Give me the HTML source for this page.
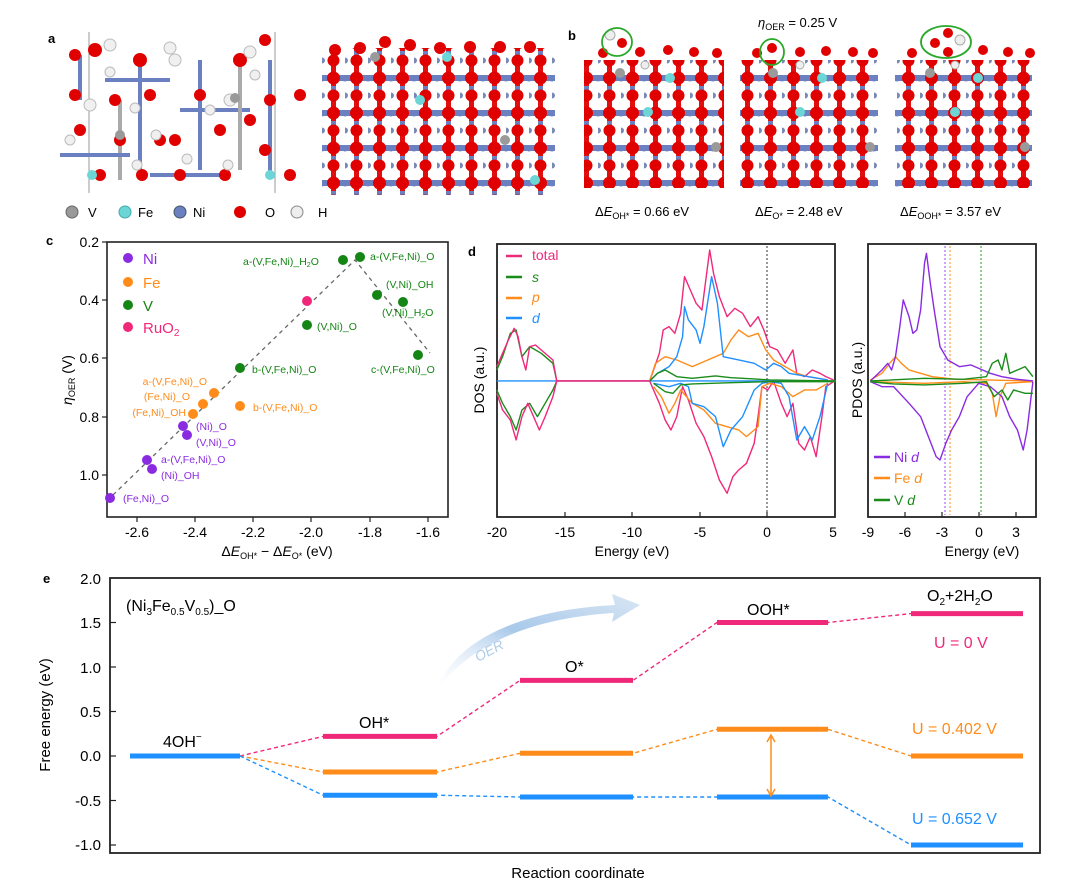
<!DOCTYPE html>
<html><head><meta charset="utf-8"><style>
html,body{margin:0;padding:0;background:#fff;}
svg{display:block;font-family:"Liberation Sans",Arial,sans-serif;}
</style></head><body>
<svg width="1067" height="894" viewBox="0 0 1067 894" xmlns="http://www.w3.org/2000/svg">
<defs>
<pattern id="slab" x="0" y="8" width="23" height="35" patternUnits="userSpaceOnUse">
<rect x="0" y="-3" width="23" height="6" fill="#6a80c0"/>
<rect x="0" y="32" width="23" height="6" fill="#6a80c0"/>
<rect x="9" y="0" width="5" height="35" fill="#e01010"/>
<rect x="9" y="8" width="5" height="10" fill="#6a80c0"/>
<circle cx="11.5" cy="0" r="6.5" fill="#e00000"/>
<circle cx="11.5" cy="35" r="6.5" fill="#e00000"/>
<circle cx="0" cy="0" r="3.5" fill="#6a80c0"/>
<circle cx="23" cy="0" r="3.5" fill="#6a80c0"/>
<circle cx="11.5" cy="17.5" r="6" fill="#e00000"/>
<circle cx="0" cy="17.5" r="3" fill="#7a88b8"/>
</pattern>
<linearGradient id="oer" x1="0" y1="1" x2="1" y2="0">
<stop offset="0" stop-color="#ffffff" stop-opacity="0.2"/>
<stop offset="0.5" stop-color="#a9c9ea"/>
<stop offset="1" stop-color="#d8e6f4"/>
</linearGradient>
</defs>

<!-- Panel a -->
<text x="48" y="43" font-size="13" font-weight="bold">a</text>
<line x1="89" y1="32" x2="89" y2="193" stroke="#999" stroke-width="1"/>
<line x1="275" y1="32" x2="275" y2="193" stroke="#999" stroke-width="1"/>
<g stroke-width="4">
<line x1="80" y1="55" x2="80" y2="100" stroke="#6a80c0"/><line x1="120" y1="100" x2="120" y2="180" stroke="#aaa"/>
<line x1="140" y1="60" x2="140" y2="170" stroke="#6a80c0"/><line x1="105" y1="80" x2="170" y2="80" stroke="#6a80c0"/>
<line x1="200" y1="60" x2="200" y2="170" stroke="#6a80c0"/><line x1="180" y1="110" x2="250" y2="110" stroke="#6a80c0"/>
<line x1="240" y1="60" x2="240" y2="170" stroke="#aaa"/><line x1="60" y1="155" x2="130" y2="155" stroke="#6a80c0"/>
<line x1="150" y1="175" x2="220" y2="175" stroke="#6a80c0"/><line x1="270" y1="60" x2="270" y2="175" stroke="#6a80c0"/>
</g>
<g fill="#e00000">
<circle cx="75" cy="55" r="6"/><circle cx="95" cy="50" r="7"/><circle cx="75" cy="95" r="6"/><circle cx="80" cy="130" r="6"/>
<circle cx="115" cy="100" r="6"/><circle cx="140" cy="60" r="7"/><circle cx="150" cy="95" r="6"/><circle cx="160" cy="140" r="6"/>
<circle cx="120" cy="140" r="6"/><circle cx="100" cy="175" r="6"/><circle cx="142" cy="175" r="6"/>
<circle cx="175" cy="140" r="6"/><circle cx="200" cy="95" r="6"/><circle cx="240" cy="60" r="7"/><circle cx="250" cy="120" r="6"/>
<circle cx="220" cy="130" r="6"/><circle cx="180" cy="175" r="6"/><circle cx="225" cy="175" r="6"/><circle cx="265" cy="150" r="6"/>
<circle cx="270" cy="100" r="6"/><circle cx="300" cy="95" r="6"/><circle cx="290" cy="175" r="6"/><circle cx="265" cy="40" r="6"/>
</g>
<g fill="#f0f0f0" stroke="#bbb" stroke-width="1">
<circle cx="110" cy="45" r="6"/><circle cx="110" cy="72" r="5"/><circle cx="90" cy="105" r="6"/><circle cx="135" cy="108" r="5"/>
<circle cx="156" cy="135" r="5"/><circle cx="170" cy="48" r="6"/><circle cx="175" cy="60" r="6"/><circle cx="210" cy="110" r="5"/>
<circle cx="250" cy="52" r="6"/><circle cx="255" cy="75" r="5"/><circle cx="230" cy="100" r="6"/><circle cx="187" cy="159" r="5"/>
<circle cx="228" cy="165" r="5"/><circle cx="137" cy="165" r="5"/><circle cx="70" cy="140" r="5"/>
</g>
<g fill="#6cd6d6"><circle cx="92" cy="175" r="5"/><circle cx="270" cy="175" r="5"/></g>
<g fill="#9a9a9a"><circle cx="120" cy="135" r="5"/><circle cx="235" cy="98" r="5"/></g>
<rect x="322" y="48" width="233" height="147" fill="url(#slab)"/>
<g fill="#e00000"><circle cx="335" cy="50" r="6"/><circle cx="360" cy="48" r="6"/><circle cx="385" cy="42" r="6"/><circle cx="410" cy="45" r="6"/><circle cx="440" cy="48" r="6"/><circle cx="470" cy="47" r="6"/><circle cx="500" cy="47" r="6"/><circle cx="530" cy="47" r="6"/></g>
<g fill="#6cd6d6"><circle cx="447" cy="57" r="5"/><circle cx="420" cy="100" r="5"/><circle cx="535" cy="180" r="5"/></g>
<g fill="#9a9a9a"><circle cx="375" cy="57" r="5"/><circle cx="505" cy="140" r="5"/></g>
<g font-size="13">
<circle cx="72" cy="212" r="6" fill="#999" stroke="#666"/><text x="88" y="217">V</text>
<circle cx="125" cy="212" r="6" fill="#6cd6d6" stroke="#4aa"/><text x="138" y="217">Fe</text>
<circle cx="180" cy="212" r="6" fill="#6a80c0" stroke="#456"/><text x="193" y="217">Ni</text>
<circle cx="240" cy="212" r="6" fill="#e00000"/><text x="265" y="217">O</text>
<circle cx="297" cy="212" r="6" fill="#eee" stroke="#888"/><text x="318" y="217">H</text>
</g>

<!-- Panel b -->
<text x="568" y="40" font-size="13" font-weight="bold">b</text>
<text x="758" y="27" font-size="13"><tspan font-style="italic">η</tspan><tspan font-size="9" dy="3">OER</tspan><tspan dy="-3"> = 0.25 V</tspan></text>
<rect x="584" y="60" width="140" height="128" fill="url(#slab)"/>
<rect x="740" y="60" width="138" height="128" fill="url(#slab)"/>
<rect x="895" y="60" width="137" height="128" fill="url(#slab)"/>
<g fill="#e00000">
<circle cx="603" cy="53" r="5"/><circle cx="622" cy="43" r="5"/><circle cx="640" cy="52" r="5"/><circle cx="668" cy="50" r="5"/><circle cx="694" cy="52" r="5"/><circle cx="717" cy="53" r="5"/>
<circle cx="757" cy="53" r="5"/><circle cx="772" cy="48" r="5"/><circle cx="800" cy="52" r="5"/><circle cx="826" cy="51" r="5"/><circle cx="853" cy="52" r="5"/><circle cx="873" cy="53" r="5"/>
<circle cx="912" cy="53" r="5"/><circle cx="935" cy="43" r="5"/><circle cx="948" cy="33" r="5"/><circle cx="948" cy="52" r="5"/><circle cx="983" cy="50" r="5"/><circle cx="1008" cy="52" r="5"/><circle cx="1030" cy="53" r="5"/>
</g>
<g fill="#eee" stroke="#aaa"><circle cx="610" cy="35" r="5"/><circle cx="960" cy="40" r="5"/><circle cx="645" cy="65" r="4"/><circle cx="800" cy="65" r="4"/><circle cx="955" cy="65" r="4"/></g>
<g fill="#6cd6d6"><circle cx="670" cy="78" r="5"/><circle cx="648" cy="112" r="5"/><circle cx="822" cy="78" r="5"/><circle cx="800" cy="112" r="5"/><circle cx="978" cy="78" r="5"/><circle cx="955" cy="112" r="5"/></g>
<g fill="#9a9a9a"><circle cx="620" cy="73" r="5"/><circle cx="773" cy="73" r="5"/><circle cx="930" cy="73" r="5"/><circle cx="716" cy="147" r="5"/><circle cx="870" cy="147" r="5"/><circle cx="1025" cy="147" r="5"/></g>
<g fill="none" stroke="#2aa82a" stroke-width="1.8"><ellipse cx="617" cy="42" rx="15" ry="14"/><ellipse cx="772" cy="52" rx="12" ry="13"/><ellipse cx="946" cy="42" rx="25" ry="16"/></g>
<g font-size="13">
<text x="595" y="216">Δ<tspan font-style="italic">E</tspan><tspan font-size="9" dy="3">OH*</tspan><tspan dy="-3"> = 0.66 eV</tspan></text>
<text x="755" y="216">Δ<tspan font-style="italic">E</tspan><tspan font-size="9" dy="3">O*</tspan><tspan dy="-3"> = 2.48 eV</tspan></text>
<text x="900" y="216">Δ<tspan font-style="italic">E</tspan><tspan font-size="9" dy="3">OOH*</tspan><tspan dy="-3"> = 3.57 eV</tspan></text>
</g>

<!-- Panel c -->
<text x="46" y="245" font-size="13" font-weight="bold">c</text>
<rect x="107" y="242" width="341" height="275" fill="none" stroke="#222" stroke-width="1.6"/>
<g stroke="#222" stroke-width="1.2">
<line x1="137" y1="517" x2="137" y2="522"/><line x1="195" y1="517" x2="195" y2="522"/><line x1="253" y1="517" x2="253" y2="522"/><line x1="311" y1="517" x2="311" y2="522"/><line x1="370" y1="517" x2="370" y2="522"/><line x1="428" y1="517" x2="428" y2="522"/>
<line x1="102" y1="242" x2="107" y2="242"/><line x1="102" y1="300" x2="107" y2="300"/><line x1="102" y1="358" x2="107" y2="358"/><line x1="102" y1="417" x2="107" y2="417"/><line x1="102" y1="475" x2="107" y2="475"/>
</g>
<g font-size="14" text-anchor="end">
<text x="99" y="247">0.2</text><text x="99" y="305">0.4</text><text x="99" y="363">0.6</text><text x="99" y="422">0.8</text><text x="99" y="480">1.0</text>
</g>
<g font-size="14" text-anchor="middle">
<text x="137" y="537">-2.6</text><text x="195" y="537">-2.4</text><text x="253" y="537">-2.2</text><text x="311" y="537">-2.0</text><text x="370" y="537">-1.8</text><text x="428" y="537">-1.6</text>
<text x="277" y="556">Δ<tspan font-style="italic">E</tspan><tspan font-size="9" dy="3">OH*</tspan><tspan dy="-3"> − Δ</tspan><tspan font-style="italic">E</tspan><tspan font-size="9" dy="3">O*</tspan><tspan dy="-3"> (eV)</tspan></text>
</g>
<text transform="translate(72,380) rotate(-90)" font-size="14" text-anchor="middle"><tspan font-style="italic">η</tspan><tspan font-size="9" dy="3">OER</tspan><tspan dy="-3"> (V)</tspan></text>
<polyline points="113,495 355,260 430,353" fill="none" stroke="#666" stroke-width="1.3" stroke-dasharray="4,4"/>
<g fill="#8a2be2"><circle cx="128" cy="258" r="5"/><circle cx="110" cy="498" r="5"/><circle cx="147" cy="460" r="5"/><circle cx="152" cy="469" r="5"/><circle cx="183" cy="426" r="5"/><circle cx="187" cy="435" r="5"/></g>
<g fill="#ff8c1a"><circle cx="128" cy="282" r="5"/><circle cx="193" cy="414" r="5"/><circle cx="203" cy="404" r="5"/><circle cx="214" cy="393" r="5"/><circle cx="240" cy="406" r="5"/></g>
<g fill="#158515"><circle cx="128" cy="305" r="5"/><circle cx="240" cy="368" r="5"/><circle cx="307" cy="325" r="5"/><circle cx="343" cy="260" r="5"/><circle cx="360" cy="257" r="5"/><circle cx="377" cy="295" r="5"/><circle cx="403" cy="302" r="5"/><circle cx="418" cy="355" r="5"/></g>
<g fill="#f0287a"><circle cx="128" cy="327" r="5"/><circle cx="307" cy="301" r="5"/></g>
<g font-size="15"><text x="143" y="264" fill="#8a2be2">Ni</text><text x="143" y="288" fill="#ff8c1a">Fe</text><text x="143" y="311" fill="#158515">V</text><text x="143" y="333" fill="#f0287a">RuO<tspan font-size="10" dy="3">2</tspan></text></g>
<g font-size="10.5" fill="#158515">
<text x="243" y="265">a-(V,Fe,Ni)_H<tspan font-size="7" dy="2">2</tspan><tspan dy="-2">O</tspan></text>
<text x="370" y="260">a-(V,Fe,Ni)_O</text>
<text x="386" y="288">(V,Ni)_OH</text>
<text x="382" y="316">(V,Ni)_H<tspan font-size="7" dy="2">2</tspan><tspan dy="-2">O</tspan></text>
<text x="317" y="330">(V,Ni)_O</text>
<text x="252" y="373">b-(V,Fe,Ni)_O</text>
<text x="371" y="373">c-(V,Fe,Ni)_O</text>
</g>
<g font-size="10.5" fill="#ff8c1a" text-anchor="end">
<text x="207" y="385">a-(V,Fe,Ni)_O</text><text x="190" y="400">(Fe,Ni)_O</text><text x="186" y="416">(Fe,Ni)_OH</text>
</g>
<text x="253" y="411" font-size="10.5" fill="#ff8c1a">b-(V,Fe,Ni)_O</text>
<g font-size="10.5" fill="#8a2be2">
<text x="196" y="430">(Ni)_O</text><text x="196" y="446">(V,Ni)_O</text><text x="161" y="463">a-(V,Fe,Ni)_O</text><text x="161" y="479">(Ni)_OH</text><text x="123" y="502">(Fe,Ni)_O</text>
</g>

<!-- Panel d -->
<text x="468" y="256" font-size="13" font-weight="bold">d</text>
<rect x="497" y="244" width="338" height="273" fill="none" stroke="#222" stroke-width="1.8"/>
<rect x="868" y="244" width="168" height="273" fill="none" stroke="#222" stroke-width="1.8"/>
<line x1="767" y1="246" x2="767" y2="515" stroke="#333" stroke-width="1" stroke-dasharray="2,2"/>
<line x1="945" y1="246" x2="945" y2="515" stroke="#9b4de0" stroke-width="1" stroke-dasharray="2,2"/>
<line x1="950" y1="246" x2="950" y2="515" stroke="#ff8c1a" stroke-width="1" stroke-dasharray="2,2"/>
<line x1="981" y1="246" x2="981" y2="515" stroke="#2a9a2a" stroke-width="1" stroke-dasharray="2,2"/>
<g transform="translate(460,230) scale(0.3871,0.3333)" fill="none" stroke-width="1.4" stroke-linejoin="round">
<polyline vector-effect="non-scaling-stroke" stroke="#1e90ff" points="95,453 970,453"/>
<polyline vector-effect="non-scaling-stroke" stroke="#1a8c1a" points="95,420 110,380 130,310 145,300 160,380 180,350 210,370 240,400 250,453"/>
<polyline vector-effect="non-scaling-stroke" stroke="#1a8c1a" points="95,480 110,520 130,560 145,600 160,540 180,520 200,560 220,520 240,480 250,453"/>
<polyline vector-effect="non-scaling-stroke" stroke="#f0287a" points="95,410 110,370 125,330 140,295 150,320 160,380 170,420 180,350 195,345 210,360 225,375 240,390 250,453 490,453 500,420 515,370 525,300 540,290 555,310 570,250 580,140 595,180 610,220 625,240 645,60 655,130 670,200 690,260 710,235 730,250 750,290 770,260 785,300 800,350 820,360 840,400 860,360 870,430 890,440 910,420 930,430 945,440 965,450"/>
<polyline vector-effect="non-scaling-stroke" stroke="#f0287a" points="95,490 110,540 130,570 145,630 160,560 175,520 190,560 205,600 220,560 240,500 250,453 490,453 500,480 515,520 530,570 545,600 560,560 575,470 590,510 610,580 630,620 650,680 670,750 690,790 705,740 720,720 740,700 760,640 770,560 780,470 795,480 810,453 830,520 845,560 860,520 875,640 890,660 905,620 920,680 935,560 945,470 965,455"/>
<polyline vector-effect="non-scaling-stroke" stroke="#ff8c1a" points="490,453 505,400 530,380 560,390 600,410 640,390 680,370 700,330 720,300 745,320 770,310 790,360 810,390 840,410 870,430 900,440 950,450"/>
<polyline vector-effect="non-scaling-stroke" stroke="#ff8c1a" points="500,470 520,500 540,550 555,520 570,480 600,520 630,540 660,580 690,590 720,600 740,620 760,600 770,590 780,470 800,460 830,470 860,500 890,480 920,480 950,460"/>
<polyline vector-effect="non-scaling-stroke" stroke="#1e90ff" points="490,453 510,430 540,410 560,380 575,320 580,230 590,270 610,300 620,340 630,290 650,140 665,220 680,380 720,390 760,400 790,420 810,400 830,410 850,430 900,440 950,450"/>
<polyline vector-effect="non-scaling-stroke" stroke="#1e90ff" points="500,460 540,470 570,460 590,470 600,520 630,530 660,560 680,650 700,600 730,560 760,480 780,460 800,455 830,460 850,500 870,630 890,590 910,630 930,560 950,460"/>
<polyline vector-effect="non-scaling-stroke" stroke="#1a8c1a" points="490,453 510,430 530,420 560,440 600,445 660,438 700,443 760,447 800,450 970,453"/>
<polyline vector-effect="non-scaling-stroke" stroke="#1a8c1a" points="500,460 530,485 550,490 570,465 600,462 700,458 800,455 970,455"/>
<polyline vector-effect="non-scaling-stroke" stroke="#ff8c1a" points="1060,450 1090,430 1110,400 1125,380 1140,400 1160,420 1190,430 1220,440 1280,448 1360,450 1480,453"/>
<polyline vector-effect="non-scaling-stroke" stroke="#ff8c1a" points="1060,455 1200,460 1300,455 1360,460 1375,490 1385,560 1395,500 1410,460 1480,455"/>
<polyline vector-effect="non-scaling-stroke" stroke="#8a2be2" points="1060,453 1090,420 1105,400 1115,420 1125,380 1135,300 1145,210 1160,260 1170,310 1180,300 1190,240 1200,100 1205,70 1215,160 1225,240 1240,350 1260,390 1290,410 1320,405 1350,420 1370,430 1400,440 1440,448 1480,453"/>
<polyline vector-effect="non-scaling-stroke" stroke="#8a2be2" points="1060,455 1090,470 1120,470 1160,520 1190,560 1210,620 1230,680 1240,690 1255,640 1270,600 1290,560 1310,500 1340,460 1370,470 1400,500 1420,560 1440,600 1455,660 1465,600 1480,455"/>
<polyline vector-effect="non-scaling-stroke" stroke="#1a8c1a" points="1060,453 1200,445 1300,448 1360,440 1375,400 1390,390 1400,420 1410,370 1420,430 1440,420 1460,410 1480,440"/>
<polyline vector-effect="non-scaling-stroke" stroke="#1a8c1a" points="1060,455 1120,462 1200,465 1300,460 1360,455 1380,500 1400,480 1415,510 1430,480 1460,490 1480,490"/>
</g>
<g stroke-width="2.5">
<line x1="506" y1="256" x2="522" y2="256" stroke="#f0287a"/><line x1="506" y1="277" x2="522" y2="277" stroke="#1a8c1a"/><line x1="506" y1="298" x2="522" y2="298" stroke="#ff8c1a"/><line x1="506" y1="318" x2="522" y2="318" stroke="#1e90ff"/>
<line x1="874" y1="457" x2="890" y2="457" stroke="#8a2be2"/><line x1="874" y1="478" x2="890" y2="478" stroke="#ff8c1a"/><line x1="874" y1="500" x2="890" y2="500" stroke="#1a8c1a"/>
</g>
<g font-size="14">
<text x="532" y="260" fill="#f0287a">total</text><text x="532" y="282" fill="#1a8c1a" font-style="italic">s</text><text x="532" y="302" fill="#ff8c1a" font-style="italic">p</text><text x="532" y="323" fill="#1e90ff" font-style="italic">d</text>
<text x="894" y="462" fill="#8a2be2">Ni <tspan font-style="italic">d</tspan></text><text x="894" y="483" fill="#ff8c1a">Fe <tspan font-style="italic">d</tspan></text><text x="894" y="505" fill="#1a8c1a">V <tspan font-style="italic">d</tspan></text>
</g>
<g stroke="#222" stroke-width="1.2">
<line x1="565" y1="517" x2="565" y2="512"/><line x1="632" y1="517" x2="632" y2="512"/><line x1="700" y1="517" x2="700" y2="512"/><line x1="767" y1="517" x2="767" y2="512"/>
<line x1="905" y1="517" x2="905" y2="512"/><line x1="942" y1="517" x2="942" y2="512"/><line x1="979" y1="517" x2="979" y2="512"/><line x1="1016" y1="517" x2="1016" y2="512"/>
</g>
<g font-size="14" text-anchor="middle">
<text x="497" y="537">-20</text><text x="565" y="537">-15</text><text x="632" y="537">-10</text><text x="700" y="537">-5</text><text x="767" y="537">0</text><text x="833" y="537">5</text>
<text x="632" y="556">Energy (eV)</text>
<text x="868" y="537">-9</text><text x="905" y="537">-6</text><text x="942" y="537">-3</text><text x="979" y="537">0</text><text x="1016" y="537">3</text>
<text x="982" y="556">Energy (eV)</text>
</g>
<text transform="translate(484,380) rotate(-90)" font-size="14" text-anchor="middle">DOS (a.u.)</text>
<text transform="translate(862,380) rotate(-90)" font-size="14" text-anchor="middle">PDOS (a.u.)</text>

<!-- Panel e -->
<text x="43" y="583" font-size="13" font-weight="bold">e</text>
<rect x="110" y="578" width="930" height="275" fill="none" stroke="#222" stroke-width="1.8"/>
<g stroke="#222" stroke-width="1.2">
<line x1="110" y1="622.5" x2="116" y2="622.5"/><line x1="110" y1="667" x2="116" y2="667"/><line x1="110" y1="711.5" x2="116" y2="711.5"/><line x1="110" y1="756" x2="116" y2="756"/><line x1="110" y1="800.5" x2="116" y2="800.5"/><line x1="110" y1="845" x2="116" y2="845"/>
</g>
<g font-size="15" text-anchor="end">
<text x="101" y="584">2.0</text><text x="101" y="628">1.5</text><text x="101" y="673">1.0</text><text x="101" y="717">0.5</text><text x="101" y="761">0.0</text><text x="101" y="806">-0.5</text><text x="101" y="850">-1.0</text>
</g>
<text transform="translate(50,715) rotate(-90)" font-size="15" text-anchor="middle">Free energy (eV)</text>
<text x="578" y="878" font-size="15" text-anchor="middle">Reaction coordinate</text>
<path d="M437,690 C455,640 520,610 615,605 L612,594 L640,605 L612,622 L614,613 C530,618 470,645 437,690 Z" fill="url(#oer)"/>
<text transform="translate(478,662) rotate(-28)" font-size="14" font-style="italic" fill="#b0cce8">OER</text>
<g fill="none" stroke-width="1.4" stroke-dasharray="4,3">
<polyline stroke="#f0287a" points="240,756 323,736.4 437,736.4 520,680.4 633,680.4 717,622.5 828,622.5 911,613.6"/>
<polyline stroke="#ff8c1a" points="240,756 323,772 437,772 520,753.3 633,753.3 717,729.3 828,729.3 911,756"/>
<polyline stroke="#1e90ff" points="240,756 323,795.2 437,795.2 520,797 633,797 717,797 828,797 911,845"/>
</g>
<g stroke-width="5">
<line x1="130" y1="756" x2="240" y2="756" stroke="#1e90ff"/>
<line x1="323" y1="736.4" x2="437" y2="736.4" stroke="#f0287a"/><line x1="520" y1="680.4" x2="633" y2="680.4" stroke="#f0287a"/><line x1="717" y1="622.5" x2="828" y2="622.5" stroke="#f0287a"/><line x1="911" y1="613.6" x2="1023" y2="613.6" stroke="#f0287a"/>
<line x1="323" y1="772" x2="437" y2="772" stroke="#ff8c1a"/><line x1="520" y1="753.3" x2="633" y2="753.3" stroke="#ff8c1a"/><line x1="717" y1="729.3" x2="828" y2="729.3" stroke="#ff8c1a"/><line x1="911" y1="756" x2="1023" y2="756" stroke="#ff8c1a"/>
<line x1="323" y1="795.2" x2="437" y2="795.2" stroke="#1e90ff"/><line x1="520" y1="797" x2="633" y2="797" stroke="#1e90ff"/><line x1="717" y1="797" x2="828" y2="797" stroke="#1e90ff"/><line x1="911" y1="845" x2="1023" y2="845" stroke="#1e90ff"/>
</g>
<line x1="771" y1="737" x2="771" y2="794" stroke="#ff8c1a" stroke-width="1.5"/>
<path d="M767,742 L771,735 L775,742 M767,789 L771,796 L775,789" fill="none" stroke="#ff8c1a" stroke-width="1.5"/>
<g font-size="16">
<text x="126" y="611">(Ni<tspan font-size="10" dy="4">3</tspan><tspan dy="-4">Fe</tspan><tspan font-size="10" dy="4">0.5</tspan><tspan dy="-4">V</tspan><tspan font-size="10" dy="4">0.5</tspan><tspan dy="-4">)_O</tspan></text>
<text x="163" y="747">4OH<tspan font-size="10" dy="-7">−</tspan></text>
<text x="359" y="728">OH*</text>
<text x="565" y="672">O*</text>
<text x="747" y="615">OOH*</text>
<text x="927" y="601">O<tspan font-size="10" dy="4">2</tspan><tspan dy="-4">+2H</tspan><tspan font-size="10" dy="4">2</tspan><tspan dy="-4">O</tspan></text>
<text x="934" y="648" fill="#f0287a">U = 0 V</text>
<text x="912" y="734" fill="#ff8c1a">U = 0.402 V</text>
<text x="912" y="824" fill="#1e90ff">U = 0.652 V</text>
</g>
</svg>
</body></html>
